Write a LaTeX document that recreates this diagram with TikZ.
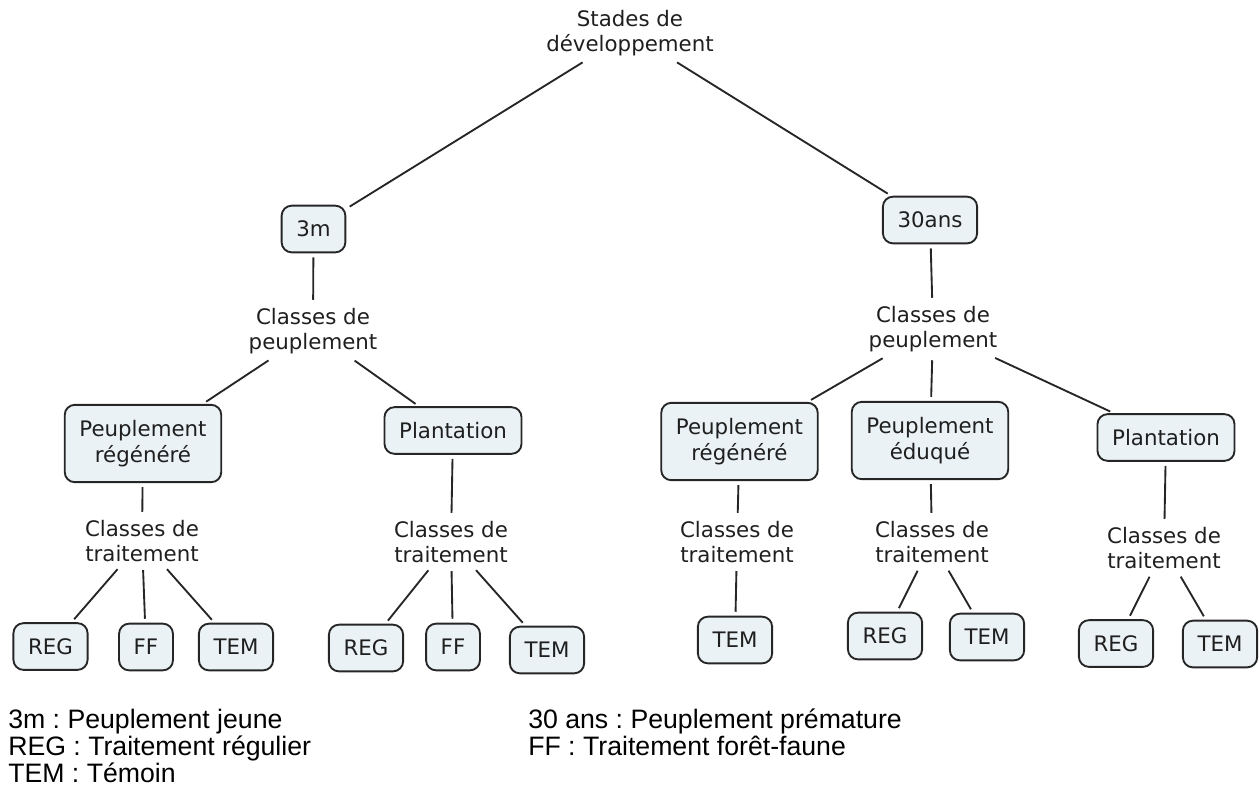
\documentclass[tikz,border=0pt]{standalone}
\usepackage{fontspec}
\setmainfont{DejaVu Sans}
\newfontfamily\legendfont{Liberation Sans}
\frenchspacing
\usetikzlibrary{calc}
\definecolor{boxfill}{HTML}{EAF2F5}
\definecolor{edge}{HTML}{262626}
\tikzset{
  box/.style={draw=edge, fill=boxfill, line width=1.4pt, rounded corners=7.5pt,
    inner xsep=11pt, inner ysep=0pt, minimum height=35pt, align=center,
    text=black!88, font=\fontsize{16}{19}\selectfont},
  box2/.style={box, minimum height=58pt},
  lbl/.style={align=center, inner xsep=2pt, inner ysep=3pt, text=black!88,
    font=\fontsize{16}{19}\selectfont},
  link/.style={draw=edge, line width=1.4pt, shorten <=3pt, shorten >=3pt},
  leg/.style={anchor=base west, inner sep=0pt,
    font=\legendfont\fontsize{20}{20}\selectfont},
}
\begin{document}
\begin{tikzpicture}[x=0.75pt, y=-0.75pt]
\useasboundingbox (0,0) rectangle (1259,797);

% top
\node[lbl] (stades) at (630,33) {Stades de\\développement};
\node[box] (m3)  at (313.5,229) {3m};
\node[box] (a30) at (930,220) {30ans};

% left branch
\node[lbl] (cdp1) at (313,331) {Classes de\\peuplement};
\node[box2] (pr1) at (143,443.5) {Peuplement\\régénéré};
\node[box]  (pl1) at (453,430.5) {Plantation};
\node[lbl] (cdt1) at (142,541) {Classes de\\traitement};
\node[lbl] (cdt2) at (451,542) {Classes de\\traitement};
\node[box] (reg1) at (50.5,646.5) {REG};
\node[box] (ff1)  at (146,647) {FF};
\node[box] (tem1) at (236,647) {TEM};
\node[box] (reg2) at (366,648) {REG};
\node[box] (ff2)  at (453,647) {FF};
\node[box] (tem2) at (547,650) {TEM};

% right branch
\node[lbl] (cdp2) at (933,329) {Classes de\\peuplement};
\node[box2] (pr2) at (739.5,441.5) {Peuplement\\régénéré};
\node[box2] (pe)  at (930,440.5) {Peuplement\\éduqué};
\node[box]  (pl2) at (1166,437.5) {Plantation};
\node[lbl] (cdt3) at (737,542) {Classes de\\traitement};
\node[lbl] (cdt4) at (932,542) {Classes de\\traitement};
\node[lbl] (cdt5) at (1164,548) {Classes de\\traitement};
\node[box] (tem3) at (735,640) {TEM};
\node[box] (reg4) at (885,636) {REG};
\node[box] (tem4) at (987,637) {TEM};
\node[box] (reg5) at (1116,643.5) {REG};
\node[box] (tem5) at (1220,644) {TEM};

% connectors
\draw[link] (stades) -- (m3);
\draw[link] (stades) -- (a30);
\draw[link] (m3) -- (cdp1);
\draw[link] (cdp1) -- (pr1);
\draw[link] (cdp1) -- (pl1);
\draw[link] (pr1) -- (cdt1);
\draw[link] (pl1) -- (cdt2);
\draw[link] (cdt1) -- (reg1);
\draw[link] (cdt1) -- (ff1);
\draw[link] (cdt1) -- (tem1);
\draw[link] (cdt2) -- (reg2);
\draw[link] (cdt2) -- (ff2);
\draw[link] (cdt2) -- (tem2);
\draw[link] (a30) -- (cdp2);
\draw[link] (cdp2) -- (pr2);
\draw[link] (cdp2) -- (pe);
\draw[link] (cdp2) -- (pl2);
\draw[link] (pr2) -- (cdt3);
\draw[link] (pe) -- (cdt4);
\draw[link] (pl2) -- (cdt5);
\draw[link] (cdt3) -- (tem3);
\draw[link] (cdt4) -- (reg4);
\draw[link] (cdt4) -- (tem4);
\draw[link] (cdt5) -- (reg5);
\draw[link] (cdt5) -- (tem5);

% legend
\node[leg] (l1) at (8,728) {3m : Peuplement jeune};
\node[leg] (l2) at (8,755) {REG : Traitement régulier};
\node[leg] (l3) at (8,782) {TEM : Témoin};
\node[leg] (l4) at (528,728) {30 ans : Peuplement prémature};
\node[leg] (l5) at (528,755) {FF : Traitement forêt-faune};
\end{tikzpicture}
\end{document}
